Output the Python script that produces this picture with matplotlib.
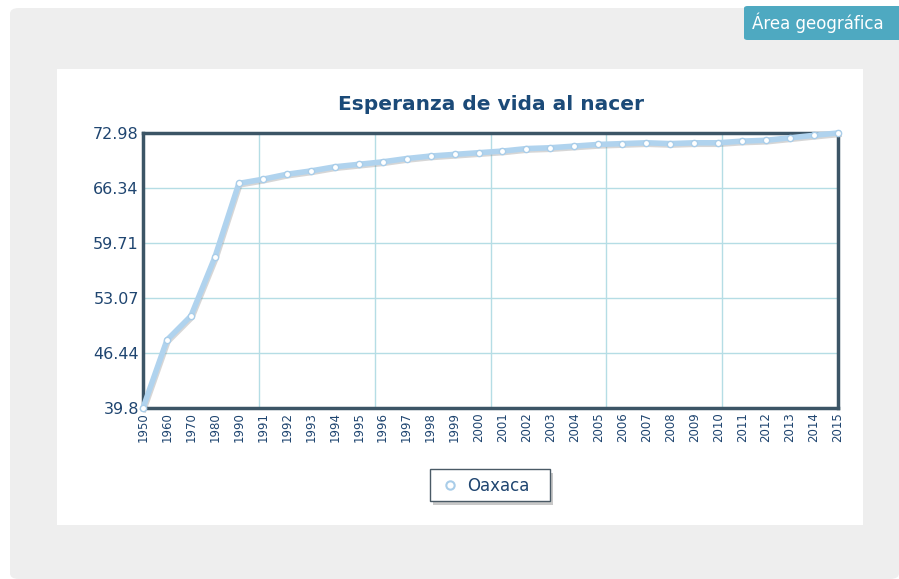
#!/usr/bin/env python3
# Esperanza de vida al nacer - Oaxaca
import numpy as np
import matplotlib
matplotlib.use("Agg")
import matplotlib.pyplot as plt
from matplotlib.patches import FancyBboxPatch, Rectangle
import matplotlib.transforms as mtransforms

# data
years = ["1950", "1960", "1970", "1980", "1990", "1991", "1992", "1993", "1994",
         "1995", "1996", "1997", "1998", "1999", "2000", "2001", "2002", "2003",
         "2004", "2005", "2006", "2007", "2008", "2009", "2010", "2011", "2012",
         "2013", "2014", "2015"]
oaxaca = [39.8, 48.0, 50.9, 58.0, 66.9, 67.4, 68.0, 68.4, 68.9,
          69.2, 69.5, 69.9, 70.2, 70.4, 70.6, 70.8, 71.1, 71.2,
          71.4, 71.6, 71.7, 71.8, 71.7, 71.8, 71.8, 72.0, 72.1,
          72.4, 72.7, 72.98]
y_ticks = [39.8, 46.44, 53.07, 59.71, 66.34, 72.98]
y_labels = ["39.8", "46.44", "53.07", "59.71", "66.34", "72.98"]

W, H = 899, 579
fig = plt.figure(figsize=(W / 100, H / 100), dpi=100)
fig.patch.set_facecolor("white")

# page background panel
fig.patches.append(FancyBboxPatch((10 / W, 0), (W - 10) / W, (H - 8) / H,
                                  boxstyle="round,pad=0,rounding_size=0.01",
                                  transform=fig.transFigure, facecolor="#eeeeee",
                                  edgecolor="none", zorder=0))
# white chart card
fig.patches.append(Rectangle((57 / W, 1 - 525 / H), (863 - 57) / W, (525 - 69) / H,
                             transform=fig.transFigure, facecolor="white",
                             edgecolor="none", zorder=1))
# button top right
fig.patches.append(FancyBboxPatch((744 / W, 1 - 40 / H), 160 / W, 34 / H,
                                  boxstyle="round,pad=0,rounding_size=0.004",
                                  transform=fig.transFigure, facecolor="#4ea9c1",
                                  edgecolor="none", zorder=1))
fig.text(752 / W, 1 - 23 / H, "Área geográfica", color="white", fontsize=12,
         va="center", ha="left", zorder=2)

ax = fig.add_axes([143 / W, 1 - 408 / H, (838 - 143) / W, (408 - 133) / H])
ax.set_zorder(3)
x = np.arange(len(years))

# soft shadow and line
shadow = mtransforms.offset_copy(ax.transData, fig=fig, x=1, y=-1.5, units="dots")
ax.plot(x, oaxaca, color="#8a8a8a", lw=4, alpha=0.35, transform=shadow,
        solid_joinstyle="round", zorder=3, clip_on=False)
ax.plot(x, oaxaca, color="#b0d3ee", lw=4, solid_joinstyle="round",
        zorder=4, clip_on=False)
ax.plot(x, oaxaca, linestyle="none", marker="o", ms=4.5, mfc="white",
        mec="#a9cde9", mew=1, zorder=5, clip_on=False)

ax.set_xlim(0, len(years) - 1)
ax.set_ylim(y_ticks[0], y_ticks[-1])
ax.set_xticks(x)
ax.set_xticklabels(years, rotation=90, fontsize=8.5, color="#1f4570")
ax.set_xticks(np.linspace(0, len(years) - 1, 7)[1:-1], minor=True)
ax.set_yticks(y_ticks)
ax.set_yticklabels(y_labels, fontsize=11.5, color="#1f4570")
ax.tick_params(axis="both", which="both", length=0, pad=3)
ax.grid(False)
ax.grid(True, axis="x", which="minor", color="#b5dde5", lw=1)
ax.grid(True, axis="y", which="major", color="#b5dde5", lw=1)
for s in ax.spines.values():
    s.set_color("#3c5566")
    s.set_linewidth(2.5)

fig.text((143 + 838) / 2 / W, 1 - 105 / H, "Esperanza de vida al nacer",
         ha="center", va="center", fontsize=14.5, fontweight="bold",
         color="#1b4a78", zorder=4)

# legend box with shadow
fig.patches.append(Rectangle((433 / W, 1 - 505 / H), 120 / W, 32 / H,
                             transform=fig.transFigure, facecolor="#c8c8c8",
                             edgecolor="none", zorder=2))
fig.patches.append(Rectangle((430 / W, 1 - 501 / H), 120 / W, 32 / H,
                             transform=fig.transFigure, facecolor="white",
                             edgecolor="#4a5a66", lw=1, zorder=3))
fig.lines.append(plt.Line2D([450 / W], [1 - 485 / H], transform=fig.transFigure,
                            marker="o", ms=6, mfc="white", mec="#a9cde9",
                            mew=1.5, zorder=4))
fig.text(467 / W, 1 - 486 / H, "Oaxaca", fontsize=12, color="#1f4570",
         va="center", ha="left", zorder=4)

fig.savefig("out.png", dpi=100)
